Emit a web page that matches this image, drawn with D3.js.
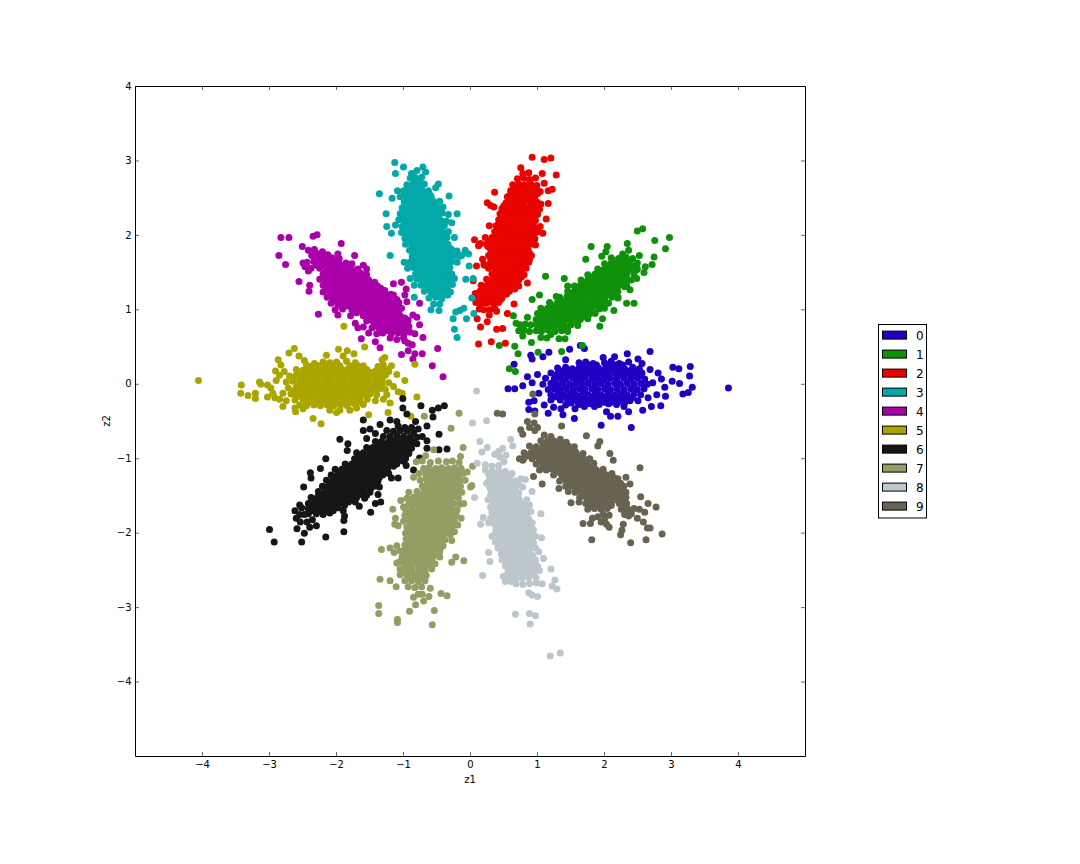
<!DOCTYPE html>
<html><head><meta charset="utf-8">
<script src="https://cdnjs.cloudflare.com/ajax/libs/d3/7.8.5/d3.min.js"></script>
<style>html,body{margin:0;padding:0;background:#fff}svg{display:block}text{font-family:"DejaVu Sans",sans-serif;fill:#000}</style>
</head><body><svg id="c" width="1080" height="864"></svg>
<script>
const labels=["0","1","2","3","4","5","6","7","8","9"];
const colors=["#2000c4","#0f910a","#e90400","#03a8a8","#a900a9","#aba500","#161616","#929e63","#bcc7cc","#686350"];
const xTicks=[-4,-3,-2,-1,0,1,2,3,4];
const yTicks=[-4,-3,-2,-1,0,1,2,3,4];
const cluster0=[[3.85,-.05],[3.28,.24],[3.27,.11],[3.31,-.04],[3.02,.23],[3.11,.21],[3.12,.01],[3.17,-.13],[3.25,-.11],[3.01,.04],[2.91,-.16],[2.84,-.29],[2.7,-.3],[2.57,-.35],[2.4,-.58],[2.36,-.37],[2.29,-.3],[2.2,-.43],[2.09,-.43],[2.03,-.37],[1.95,-.55],[1.56,-.33],[1.55,-.46],[1.38,-.41],[1.35,-.33],[1.16,-.39],[.96,-.36],[.87,-.34],[.87,-.24],[.56,-.06],[.66,-.06],[.65,.27],[.9,.39],[.92,.34],[1.08,.37],[1.17,.43],[1.48,.47],[1.64,.52],[1.7,.48],[2.34,.41],[2.68,.44],[.85,.1],[.78,-.02],[.92,.02],[1,.13],[1.02,-.12],[.95,-.22],[1.1,-.28],[1.24,-.31],[1.7,-.3],[1.85,-.3],[2.85,.07],[2.8,.15],[2.9,-.04],[2.78,-.14],[2.68,.2],[2.72,.02],[2.65,-.18],[1.42,.33],[1.98,.36],[2.15,.37],[2.5,.34],[2.56,.28],
[1.62,.29],[1.72,.3],[1.83,.28],[2,.29],[2.1,.31],[2.22,.28],[2.36,.3],
[1.3,.22],[1.42,.23],[1.52,.21],[1.62,.22],[1.72,.21],[1.81,.23],[1.91,.22],[2.01,.21],[2.11,.23],[2.2,.22],[2.3,.21],[2.42,.23],[2.52,.21],
[1.2,.15],[1.3,.14],[1.39,.15],[1.48,.14],[1.57,.15],[1.67,.14],[1.76,.15],[1.86,.14],[1.95,.15],[2.05,.14],[2.15,.15],[2.24,.14],[2.34,.15],[2.44,.14],[2.56,.15],
[1.12,.08],[1.25,.07],[1.34,.08],[1.43,.07],[1.53,.08],[1.62,.07],[1.71,.08],[1.81,.07],[1.9,.08],[2,.07],[2.09,.08],[2.19,.07],[2.29,.08],[2.39,.07],[2.49,.08],[2.6,.07],
[1.08,0],[1.2,.01],[1.29,0],[1.38,.01],[1.48,0],[1.57,.01],[1.67,0],[1.76,.01],[1.86,0],[1.95,.01],[2.05,0],[2.15,.01],[2.24,0],[2.34,.01],[2.44,0],[2.54,.01],[2.64,0],
[1.16,-.07],[1.25,-.06],[1.34,-.07],[1.43,-.06],[1.53,-.07],[1.62,-.06],[1.71,-.07],[1.81,-.06],[1.9,-.07],[2,-.06],[2.09,-.07],[2.19,-.06],[2.29,-.07],[2.39,-.06],[2.49,-.07],[2.59,-.06],
[1.2,-.14],[1.3,-.13],[1.39,-.14],[1.48,-.13],[1.57,-.14],[1.67,-.13],[1.76,-.14],[1.86,-.13],[1.95,-.14],[2.05,-.13],[2.15,-.14],[2.24,-.13],[2.34,-.14],[2.44,-.13],[2.54,-.14],
[1.2,-.21],[1.34,-.21],[1.45,-.22],[1.58,-.21],[1.67,-.2],[1.76,-.21],[1.86,-.2],[1.95,-.21],[2.05,-.2],[2.15,-.21],[2.24,-.2],[2.38,-.22],[2.5,-.22],
[1.42,-.28],[1.62,-.27],[1.78,-.26],[1.92,-.27],[2.06,-.26],[2.18,-.27]];
const core0=[[1.35,.18],[1.47,.19],[1.57,.18],[1.67,.19],[1.77,.18],[1.86,.19],[1.96,.18],[2.06,.19],[2.16,.18],[2.25,.19],[2.36,.18],[2.47,.19],[1.27,.11],[1.44,.11],[1.62,.11],[1.81,.11],[2,.11],[2.19,.11],[2.39,.11],[2.52,.11],[1.25,-.17],[1.35,-.18],[1.44,-.17],[1.53,-.18],[1.62,-.17],[1.72,-.18],[1.81,-.17],[1.9,-.18],[2,-.17],[2.1,-.18],[2.2,-.17],[2.3,-.18],[2.42,-.18],[1.5,-.25],[1.6,-.24],[1.7,-.24],[1.82,-.24],[1.92,-.24],[2,-.24],[2.1,-.24],[2.2,-.24],[2.3,-.25],[1.67,.25],[1.78,.26],[1.88,.26],[2.05,.26],[2.16,.26],[2.27,.26]];
const cluster1=[[2.97,1.97],[2.91,1.82],[2.75,1.93],[2.57,2.09],[2.49,2.06],[2.74,1.71],[2.71,1.61],[2.61,1.58],[2.59,1.5],[2.49,1.55],[2.52,1.73],[1.8,1.85],[2.04,1.85],[2.34,1.89],[2.44,1.09],[2.33,1.09],[2.14,.99],[1.97,.88],[1.93,.78],[1.12,1.45],[1.03,1.2],[.92,1.14],[.64,.92],[.85,.9],[.66,.51],[.43,.52],[.71,.41],[1.01,.43],[1.36,.44],[1.67,.52],[.58,.21],[.67,.17],[.91,.56],[1.41,.61],[1.32,.61],[2.36,1.8],[2.27,1.75],[2.02,1.78],[1.96,1.72],[1.72,1.68],[1.4,1.42],[1.45,1.32],[1.28,1.18],[2.48,1.42],[2.38,1.27],[2.33,1.33],[2.2,1.17],
[2.1,1.7],[2.21,1.69],[2.32,1.71],[2.42,1.69],
[2,1.62],[2.1,1.63],[2.19,1.62],[2.29,1.63],[2.39,1.61],[2.49,1.63],
[1.9,1.55],[1.99,1.54],[2.09,1.55],[2.18,1.55],[2.28,1.54],[2.38,1.55],[2.48,1.54],
[1.75,1.47],[1.86,1.48],[1.95,1.47],[2.04,1.47],[2.14,1.48],[2.23,1.47],[2.33,1.47],[2.44,1.48],
[1.65,1.4],[1.75,1.4],[1.85,1.39],[1.94,1.4],[2.04,1.4],[2.13,1.39],[2.23,1.4],[2.33,1.39],[2.4,1.4],
[1.55,1.32],[1.64,1.33],[1.74,1.32],[1.83,1.32],[1.93,1.33],[2.02,1.32],[2.12,1.32],[2.22,1.33],[2.3,1.31],
[1.45,1.25],[1.54,1.24],[1.64,1.25],[1.73,1.25],[1.83,1.24],[1.92,1.25],[2.02,1.25],[2.11,1.24],[2.2,1.25],
[1.33,1.17],[1.44,1.18],[1.53,1.17],[1.62,1.17],[1.72,1.18],[1.82,1.17],[1.91,1.17],[2.01,1.18],[2.11,1.17],[2.2,1.16],
[1.18,1.1],[1.29,1.09],[1.38,1.1],[1.47,1.1],[1.57,1.09],[1.66,1.1],[1.76,1.1],[1.85,1.09],[1.95,1.1],[2.06,1.09],
[1.05,1.02],[1.15,1.02],[1.25,1.03],[1.34,1.02],[1.44,1.02],[1.53,1.03],[1.63,1.02],[1.72,1.02],[1.82,1.03],[1.92,1.01],[2,1.02],
[1,.95],[1.1,.95],[1.2,.94],[1.29,.95],[1.39,.95],[1.48,.94],[1.58,.95],[1.67,.95],[1.77,.94],[1.86,.95],
[.98,.87],[1.07,.87],[1.16,.88],[1.26,.87],[1.35,.87],[1.45,.88],[1.54,.87],[1.64,.87],[1.75,.88],
[.68,.82],[.74,.8],[.82,.81],[.9,.8],[.99,.8],[1.1,.79],[1.2,.8],[1.3,.8],[1.4,.79],[1.5,.8],[1.6,.79],
[.72,.72],[.8,.73],[.88,.71],[.98,.72],[1.06,.71],[1.16,.73],[1.26,.71],[1.36,.72],[1.45,.71],
[.78,.65],[1.05,.63],[1.14,.62],[1.2,.67]];
const core1=[[2.15,1.66],[2.26,1.66],[2.36,1.66],[2.05,1.58],[2.15,1.59],[2.25,1.58],[2.35,1.58],[2.44,1.58],[1.95,1.51],[2.05,1.51],[2.14,1.51],[2.24,1.51],[2.34,1.51],[1.8,1.44],[1.9,1.44],[2,1.44],[2.09,1.44],[2.19,1.44],[2.29,1.44],[1.7,1.36],[1.8,1.36],[1.9,1.36],[1.99,1.36],[2.09,1.36],[2.18,1.36],[2.28,1.36],[1.6,1.29],[1.69,1.29],[1.78,1.29],[1.88,1.29],[1.98,1.29],[2.07,1.29],[2.17,1.29],[1.49,1.21],[1.59,1.21],[1.68,1.21],[1.78,1.21],[1.87,1.21],[1.97,1.21],[2.06,1.21],[2.16,1.21],[1.33,1.13],[1.42,1.13],[1.52,1.13],[1.62,1.13],[1.71,1.13],[1.81,1.13],[1.9,1.13],[2,1.13],[1.2,1.06],[1.3,1.06],[1.39,1.06],[1.49,1.06],[1.58,1.06],[1.68,1.06],[1.77,1.06],[1.87,1.06],[1.96,1.06],[1.1,.98],[1.2,.98],[1.29,.98],[1.39,.98],[1.49,.98],[1.58,.98],[1.68,.98],[1.77,.98],[1.05,.91],[1.15,.91],[1.24,.91],[1.34,.91],[1.43,.91],[1.53,.91],[1.62,.91],[1.72,.91],[1.03,.84],[1.12,.84],[1.21,.84],[1.31,.84],[1.4,.84],[1.5,.84],[1.6,.84],[1.05,.76],[1.15,.76],[1.25,.76],[1.35,.76],[1.45,.76]];
const cluster2=[[.92,3.05],[1.1,3.02],[1.2,3.04],[1.28,2.81],[1.07,2.83],[.75,2.91],[.36,2.58],[.06,1.94],[.12,.54],[.31,.57],[.52,.55],[.39,.74],[.48,.75],[.15,.77],[.25,.84],[.1,.88],[.55,.95],[.65,1.08],[.04,1.39],[.07,1.22],[.09,1.59],[.85,1.36],[1.13,2.22],[1.08,2.03],[1.16,2.43],[1.22,2.62],[1.16,2.6],[1.1,2.7],[1.05,2.42],[.3,2.4],[.25,2.44],[.12,1.86],[.2,1.61],[.18,1.68],[.35,2.38],
[.78,2.83],[.87,2.84],[.7,2.76],[.79,2.77],[.88,2.75],[.97,2.77],
[.63,2.68],[.72,2.69],[.81,2.68],[.9,2.69],[.99,2.67],[.6,2.6],[.7,2.61],[.79,2.6],[.88,2.61],[.98,2.6],[1.04,2.59],
[.55,2.52],[.66,2.53],[.75,2.52],[.85,2.53],[.94,2.52],[.53,2.44],[.62,2.45],[.71,2.44],[.8,2.45],[.9,2.44],[.99,2.45],
[.47,2.36],[.57,2.37],[.67,2.36],[.76,2.37],[.85,2.36],[.95,2.37],[1.03,2.35],
[.44,2.29],[.53,2.29],[.62,2.28],[.72,2.29],[.81,2.28],[.9,2.29],[1,2.28],
[.42,2.21],[.5,2.21],[.59,2.2],[.68,2.21],[.77,2.2],[.87,2.21],[.97,2.2],
[.28,2.13],[.38,2.13],[.47,2.12],[.56,2.13],[.65,2.12],[.75,2.13],[.84,2.12],[.94,2.13],[1.04,2.12],
[.36,2.05],[.45,2.05],[.54,2.04],[.63,2.05],[.72,2.04],[.82,2.05],[.91,2.04],[1,2.05],
[.22,1.97],[.32,1.97],[.41,1.96],[.5,1.97],[.6,1.96],[.69,1.97],[.78,1.96],[.88,1.97],[.96,1.95],
[.15,1.89],[.24,1.88],[.34,1.89],[.43,1.88],[.53,1.89],[.62,1.88],[.72,1.89],[.81,1.88],[.9,1.88],[.97,1.87],
[.3,1.81],[.4,1.81],[.49,1.8],[.58,1.81],[.68,1.8],[.77,1.81],[.86,1.8],
[.27,1.73],[.36,1.73],[.45,1.72],[.55,1.73],[.64,1.72],[.73,1.73],[.83,1.72],[.91,1.73],
[.21,1.6],[.3,1.64],[.4,1.65],[.49,1.64],[.59,1.65],[.68,1.64],[.77,1.65],[.87,1.64],
[.27,1.56],[.36,1.57],[.46,1.56],[.55,1.57],[.65,1.56],[.74,1.57],[.83,1.56],
[.32,1.48],[.43,1.49],[.52,1.48],[.61,1.48],[.7,1.49],[.8,1.47],
[.24,1.41],[.34,1.41],[.44,1.4],[.54,1.41],[.63,1.41],[.72,1.4],
[.16,1.33],[.25,1.33],[.34,1.33],[.43,1.33],[.53,1.33],[.62,1.33],[.72,1.32],
[.14,1.25],[.23,1.25],[.32,1.25],[.41,1.25],[.5,1.25],[.58,1.25],
[.12,1.17],[.22,1.17],[.31,1.17],[.4,1.17],[.47,1.16],
[.08,1.1],[.15,1.08],[.24,1.09],[.34,1.09],[.42,1.1],
[.13,1.01],[.2,1],[.29,1],[.36,1.02],[.28,.93],[.39,.98]];
const core2=[[.68,2.64],[.77,2.65],[.86,2.64],[.95,2.64],[.6,2.56],[.7,2.57],[.8,2.56],[.9,2.56],[1,2.56],[.58,2.48],[.68,2.49],[.78,2.48],[.88,2.48],[.96,2.49],[.5,2.4],[.6,2.41],[.7,2.4],[.8,2.41],[.9,2.4],[1,2.41],[.5,2.32],[.6,2.33],[.7,2.32],[.8,2.33],[.9,2.32],[1,2.32],[.48,2.25],[.57,2.25],[.66,2.24],[.77,2.25],[.86,2.24],[.95,2.25],[.43,2.17],[.53,2.17],[.63,2.16],[.73,2.17],[.82,2.16],[.92,2.17],[.42,2.09],[.51,2.09],[.6,2.08],[.7,2.09],[.8,2.08],[.9,2.09],[.98,2.08],[.4,2.01],[.5,2.01],[.58,2],[.67,2.01],[.77,2],[.86,2.01],[.95,2],[.27,1.93],[.36,1.93],[.46,1.92],[.55,1.93],[.65,1.92],[.74,1.93],[.83,1.92],[.92,1.93],[.26,1.85],[.35,1.85],[.44,1.84],[.54,1.85],[.63,1.84],[.72,1.85],[.82,1.84],[.33,1.77],[.42,1.77],[.52,1.76],[.61,1.77],[.7,1.76],[.8,1.77],[.88,1.76],[.3,1.69],[.4,1.69],[.5,1.68],[.6,1.69],[.7,1.68],[.8,1.69],[.88,1.68],[.33,1.6],[.43,1.61],[.5,1.6],[.6,1.61],[.7,1.6],[.8,1.61],[.38,1.52],[.48,1.53],[.57,1.52],[.66,1.53],[.76,1.52],[.38,1.44],[.48,1.45],[.58,1.44],[.67,1.45],[.76,1.44],[.28,1.37],[.38,1.37],[.48,1.37],[.58,1.36],[.67,1.37],[.2,1.29],[.29,1.29],[.38,1.29],[.48,1.29],[.57,1.29],[.66,1.28],[.18,1.21],[.27,1.21],[.36,1.21],[.45,1.21],[.54,1.21],[.17,1.13],[.27,1.13],[.37,1.13],[.44,1.13]];
const cluster3=[[-1.13,2.98],[-1,2.92],[-.71,2.92],[-1.12,2.83],[-.67,2.85],[-1.36,2.56],[-1.17,2.5],[-1.26,2.29],[-1.25,2.12],[-1.18,2.03],[-1.2,1.73],[-1.12,2.14],[-.48,2.69],[-.52,2.64],[-.32,2.53],[-.2,2.29],[-.24,1.97],[-.03,1.75],[-.02,1.59],[-.07,1.41],[.04,1.42],[.02,1.16],[.05,.95],[-.2,.63],[-.24,.74],[-.26,.88],[-.16,.99],[-.1,1.02],[-.06,.88],[-.22,.97],[-.59,1],[-.47,.99],[-.84,1.33],[-.84,1.17],[-.88,2.83],[-.83,2.78],[-.8,2.87],[-.13,1.73],[-.08,1.8],[-.28,2.17],[-.33,2.28],
[-.9,2.77],[-.81,2.76],[-.73,2.78],[-.95,2.68],[-.86,2.69],[-.77,2.68],[-.69,2.69],[-1.09,2.6],[-1,2.6],[-.91,2.61],[-.82,2.6],[-.73,2.61],[-.63,2.6],
[-1.05,2.52],[-.96,2.53],[-.87,2.52],[-.78,2.53],[-.69,2.52],[-.59,2.53],[-.99,2.45],[-.9,2.44],[-.81,2.45],[-.72,2.44],[-.63,2.45],[-.54,2.45],[-.46,2.46],
[-1.02,2.37],[-.93,2.37],[-.84,2.36],[-.75,2.37],[-.66,2.36],[-.57,2.37],[-.47,2.36],[-.41,2.38],
[-1.05,2.29],[-.96,2.29],[-.87,2.28],[-.78,2.29],[-.69,2.28],[-.6,2.29],[-.51,2.28],[-.42,2.3],
[-1.07,2.21],[-.98,2.2],[-.89,2.21],[-.8,2.2],[-.71,2.21],[-.62,2.2],[-.53,2.21],[-.44,2.2],[-.36,2.19],
[-1.02,2.12],[-.93,2.13],[-.84,2.12],[-.75,2.13],[-.66,2.12],[-.57,2.13],[-.48,2.12],[-.39,2.13],
[-1.03,2.04],[-.95,2.04],[-.86,2.05],[-.77,2.04],[-.68,2.05],[-.59,2.04],[-.5,2.05],[-.41,2.04],[-.33,2.05],
[-.98,1.96],[-.89,1.97],[-.8,1.96],[-.71,1.97],[-.62,1.96],[-.53,1.97],[-.44,1.96],[-.35,1.97],
[-.97,1.88],[-.88,1.88],[-.79,1.89],[-.7,1.88],[-.61,1.89],[-.52,1.88],[-.43,1.89],[-.34,1.88],
[-.91,1.8],[-.82,1.81],[-.73,1.8],[-.64,1.81],[-.55,1.8],[-.46,1.81],[-.37,1.8],[-.28,1.81],[-.2,1.79],
[-.87,1.72],[-.78,1.73],[-.69,1.72],[-.6,1.73],[-.51,1.72],[-.42,1.73],[-.33,1.72],[-.24,1.73],[-.16,1.72],
[-.99,1.64],[-.91,1.64],[-.82,1.65],[-.73,1.64],[-.64,1.65],[-.55,1.64],[-.46,1.65],[-.37,1.64],[-.28,1.65],[-.2,1.64],
[-.94,1.56],[-.85,1.57],[-.76,1.56],[-.67,1.57],[-.58,1.56],[-.49,1.57],[-.4,1.56],[-.31,1.57],
[-.82,1.48],[-.73,1.49],[-.64,1.48],[-.55,1.49],[-.46,1.48],[-.37,1.49],[-.28,1.48],
[-.9,1.42],[-.8,1.41],[-.71,1.4],[-.62,1.41],[-.52,1.41],[-.42,1.4],[-.33,1.41],[-.24,1.42],
[-.74,1.33],[-.64,1.32],[-.55,1.33],[-.45,1.32],[-.36,1.33],[-.27,1.34],
[-.69,1.25],[-.59,1.24],[-.49,1.25],[-.4,1.24],[-.3,1.24],[-.62,1.16],[-.52,1.17],[-.43,1.15],[-.34,1.2],[-.55,1.08],[-.46,1.08]];
const core3=[[-.85,2.73],[-.76,2.72],[-.91,2.65],[-.82,2.64],[-.73,2.65],[-.98,2.56],[-.89,2.56],[-.8,2.57],[-.71,2.56],[-.62,2.57],[-.94,2.49],[-.85,2.48],[-.76,2.49],[-.67,2.48],[-.58,2.49],[-.97,2.41],[-.88,2.4],[-.79,2.41],[-.7,2.4],[-.61,2.41],[-.52,2.4],[-1,2.33],[-.91,2.32],[-.82,2.33],[-.73,2.32],[-.64,2.33],[-.55,2.32],[-.46,2.33],[-1.02,2.25],[-.93,2.24],[-.84,2.25],[-.75,2.24],[-.66,2.25],[-.57,2.24],[-.48,2.25],[-.98,2.17],[-.88,2.16],[-.79,2.17],[-.7,2.16],[-.61,2.17],[-.52,2.16],[-.43,2.17],[-.98,2.08],[-.89,2.09],[-.8,2.08],[-.71,2.09],[-.62,2.08],[-.53,2.09],[-.44,2.08],[-.93,2],[-.84,2.01],[-.75,2],[-.66,2.01],[-.57,2],[-.48,2.01],[-.39,2],[-.93,1.92],[-.84,1.93],[-.75,1.92],[-.66,1.93],[-.57,1.92],[-.48,1.93],[-.39,1.92],[-.86,1.84],[-.77,1.85],[-.68,1.84],[-.59,1.85],[-.5,1.84],[-.41,1.85],[-.32,1.84],[-.82,1.76],[-.73,1.77],[-.64,1.76],[-.55,1.77],[-.46,1.76],[-.37,1.77],[-.28,1.76],[-.86,1.68],[-.77,1.69],[-.68,1.68],[-.59,1.69],[-.5,1.68],[-.41,1.69],[-.32,1.68],[-.88,1.6],[-.79,1.61],[-.7,1.6],[-.61,1.61],[-.52,1.6],[-.43,1.61],[-.34,1.6],[-.78,1.52],[-.69,1.53],[-.6,1.52],[-.51,1.53],[-.42,1.52],[-.33,1.53],[-.76,1.45],[-.67,1.45],[-.58,1.45],[-.49,1.45],[-.4,1.45],[-.31,1.45],[-.69,1.37],[-.6,1.37],[-.5,1.37],[-.4,1.37],[-.31,1.38],[-.64,1.29],[-.54,1.29],[-.44,1.29],[-.35,1.29],[-.57,1.21],[-.47,1.21],[-.38,1.21]];
const cluster4=[[-2.83,1.97],[-2.71,1.97],[-2.35,1.99],[-2.29,2.01],[-2.86,1.73],[-2.76,1.61],[-2.56,1.38],[-2.41,1.25],[-2.4,1.33],[-2.51,1.85],[-1.93,1.89],[-2.27,.94],[-1.73,1.73],[-1.63,.61],[-1.42,.57],[-1.35,.49],[-1.03,.4],[-.93,.45],[-.86,.34],[-.83,.41],[-.72,.41],[-.49,.48],[-.57,.25],[-.41,.1],[-1.15,1.35],[-1.03,1.37],[-.96,1.28],[-.95,1.11],[-.76,1.09],[-.8,.9],[-.76,.8],[-.71,.63],[-1.6,1.6],[-1.55,1.55],[-2.5,1.63],[-2.47,1.58],[-2.42,1.52],[-.98,1.2],[-1.72,.82],[-1.68,.76],[-.86,.93],[-.83,.68],[-.93,.55],[-.87,.53],[-.98,.58],
[-2.42,1.8],[-2.33,1.81],[-2.21,1.78],[-2.13,1.74],[-1.98,1.75],[-2.37,1.73],[-2.27,1.72],[-2.17,1.7],[-2.07,1.7],[-1.96,1.69],
[-2.44,1.64],[-2.34,1.65],[-2.25,1.63],[-2.15,1.64],[-2.06,1.63],[-1.96,1.62],[-1.86,1.63],[-1.77,1.62],
[-2.38,1.56],[-2.25,1.56],[-2.14,1.56],[-2.05,1.55],[-1.96,1.56],[-1.87,1.55],[-1.78,1.56],[-1.68,1.55],
[-2.2,1.48],[-2.1,1.48],[-2.01,1.49],[-1.92,1.48],[-1.83,1.49],[-1.74,1.48],[-1.64,1.49],[-1.55,1.47],
[-2.25,1.41],[-2.16,1.41],[-2.06,1.4],[-1.97,1.41],[-1.88,1.4],[-1.79,1.41],[-1.7,1.4],[-1.61,1.41],[-1.52,1.4],
[-2.2,1.33],[-2.11,1.32],[-2.02,1.33],[-1.93,1.32],[-1.84,1.33],[-1.75,1.32],[-1.66,1.33],[-1.57,1.32],[-1.48,1.33],[-1.39,1.32],
[-2.2,1.24],[-2.1,1.25],[-2.01,1.24],[-1.92,1.25],[-1.83,1.24],[-1.74,1.25],[-1.65,1.24],[-1.56,1.25],[-1.47,1.24],[-1.38,1.25],[-1.28,1.26],
[-2.14,1.17],[-2.05,1.16],[-1.96,1.17],[-1.87,1.16],[-1.78,1.17],[-1.69,1.16],[-1.6,1.17],[-1.51,1.16],[-1.42,1.17],[-1.33,1.16],[-1.24,1.17],[-1.15,1.2],
[-2.08,1.09],[-1.98,1.08],[-1.88,1.09],[-1.79,1.08],[-1.7,1.09],[-1.61,1.08],[-1.52,1.09],[-1.43,1.08],[-1.34,1.09],[-1.25,1.08],[-1.16,1.09],[-1.07,1.1],
[-2.02,1],[-1.91,1.01],[-1.77,1],[-1.66,1],[-1.57,1.01],[-1.48,1],[-1.39,1.01],[-1.3,1],[-1.21,1.01],[-1.12,1],[-1.03,1.02],
[-1.98,.93],[-1.79,.92],[-1.6,.92],[-1.5,.93],[-1.41,.92],[-1.32,.93],[-1.23,.92],[-1.14,.93],[-1.05,.92],
[-1.55,.85],[-1.45,.84],[-1.36,.85],[-1.27,.84],[-1.18,.85],[-1.09,.84],[-1,.85],[-.93,.86],
[-1.6,.77],[-1.47,.76],[-1.38,.77],[-1.29,.76],[-1.2,.77],[-1.1,.76],[-1.01,.77],[-.92,.78],
[-1.52,.69],[-1.4,.68],[-1.31,.69],[-1.18,.68],[-1.08,.69],[-.99,.68],[-.9,.7],[-1.2,.62],[-1.1,.6],[-1,.62]];
const core4=[[-2.3,1.76],[-2.2,1.74],[-2.32,1.68],[-2.22,1.67],[-2.12,1.67],[-2.02,1.66],[-2.3,1.6],[-2.2,1.6],[-2.1,1.6],[-2,1.59],[-1.91,1.59],[-1.82,1.59],[-2.15,1.52],[-2.06,1.52],[-1.97,1.52],[-1.88,1.52],[-1.79,1.52],[-1.7,1.52],[-2.2,1.44],[-2.11,1.44],[-2.02,1.44],[-1.93,1.44],[-1.84,1.44],[-1.74,1.44],[-1.65,1.44],[-1.57,1.44],[-2.15,1.37],[-2.06,1.37],[-1.97,1.37],[-1.88,1.37],[-1.79,1.37],[-1.7,1.37],[-1.61,1.37],[-1.52,1.37],[-1.43,1.37],[-2.15,1.29],[-2.06,1.29],[-1.97,1.29],[-1.88,1.29],[-1.79,1.29],[-1.7,1.29],[-1.61,1.29],[-1.52,1.29],[-1.43,1.29],[-1.34,1.29],[-2.1,1.21],[-2,1.21],[-1.91,1.21],[-1.82,1.21],[-1.73,1.21],[-1.64,1.21],[-1.55,1.21],[-1.46,1.21],[-1.37,1.21],[-1.28,1.21],[-1.19,1.21],[-2.02,1.13],[-1.92,1.13],[-1.83,1.13],[-1.74,1.13],[-1.65,1.13],[-1.56,1.13],[-1.47,1.13],[-1.38,1.13],[-1.29,1.13],[-1.2,1.13],[-1.1,1.14],[-1.93,1.05],[-1.84,1.05],[-1.74,1.04],[-1.65,1.05],[-1.56,1.04],[-1.47,1.05],[-1.38,1.04],[-1.29,1.05],[-1.2,1.04],[-1.1,1.05],[-1.7,.96],[-1.61,.97],[-1.52,.96],[-1.43,.97],[-1.34,.96],[-1.25,.97],[-1.16,.96],[-1.07,.97],[-1.52,.88],[-1.43,.89],[-1.34,.88],[-1.25,.89],[-1.16,.88],[-1.07,.89],[-.98,.89],[-1.42,.8],[-1.33,.81],[-1.24,.8],[-1.15,.81],[-1.06,.8],[-.97,.81],[-1.34,.72],[-1.24,.72],[-1.14,.72],[-1.04,.72],[-.95,.73]];
const cluster5=[[-4.06,.05],[-3.42,-.01],[-3.43,-.12],[-3.32,-.15],[-3.21,-.12],[-3.21,-.19],[-3.15,.03],[-3.13,0],[-3.03,-.01],[-3.03,-.17],[-1.89,.78],[-1.58,.5],[-2.63,.48],[-2.71,.42],[-2.87,.33],[-2.83,.26],[-2.91,.18],[-1.97,.47],[-1.84,.45],[-1.74,.41],[-.83,.27],[-1.1,.13],[-.98,.05],[-.8,-.17],[-1.23,-.38],[-1.52,-.41],[-2.35,-.46],[-2.23,-.53],[-2.61,-.37],[-2.8,-.3],[-.89,-.43],[-1.28,.36],[-1.32,.33],[-1.18,.25],[-1.25,.2],[-2.98,-.05],[-2.95,-.12],[-2.92,-.18],[-2.85,-.2],[-2.9,.05],[-2.85,.12],[-2.78,.17],[-2.56,.38],[-2.48,.32],[-2.15,.39],[-1.9,.38],[-1.08,-.1],[-1.15,-.03],[-1.02,-.12],[-1.2,-.25],[-1.3,-.2],[-2.62,-.32],[-2.5,-.33],[-2,-.38],[-1.8,-.35],[-1.7,-.32],
[-2.45,.26],[-2.33,.28],[-2.2,.3],[-2.1,.29],[-2,.3],[-1.85,.31],[-1.72,.29],[-1.6,.25],[-1.38,.24],[-1.3,.26],
[-2.6,.2],[-2.5,.19],[-2.4,.2],[-2.31,.21],[-2.22,.2],[-2.12,.21],[-2.03,.2],[-1.93,.21],[-1.84,.2],[-1.75,.21],[-1.65,.19],[-1.55,.2],[-1.42,.18],[-1.33,.19],[-1.22,.17],
[-2.7,.11],[-2.6,.12],[-2.5,.11],[-2.41,.12],[-2.31,.11],[-2.22,.12],[-2.12,.11],[-2.03,.12],[-1.93,.11],[-1.84,.12],[-1.74,.11],[-1.65,.12],[-1.55,.11],[-1.46,.12],[-1.36,.11],[-1.27,.12],
[-2.75,.03],[-2.65,.04],[-2.55,.03],[-2.46,.04],[-2.36,.03],[-2.27,.04],[-2.17,.03],[-2.08,.04],[-1.98,.03],[-1.89,.04],[-1.79,.03],[-1.7,.04],[-1.6,.03],[-1.51,.04],[-1.41,.03],[-1.32,.04],[-1.22,.02],
[-2.72,-.05],[-2.6,-.04],[-2.5,-.05],[-2.41,-.04],[-2.31,-.05],[-2.22,-.04],[-2.12,-.05],[-2.03,-.04],[-1.93,-.05],[-1.84,-.04],[-1.74,-.05],[-1.65,-.04],[-1.55,-.05],[-1.46,-.04],[-1.36,-.06],[-1.27,-.07],
[-2.8,-.12],[-2.68,-.13],[-2.55,-.12],[-2.46,-.13],[-2.36,-.12],[-2.27,-.13],[-2.17,-.12],[-2.08,-.13],[-1.98,-.12],[-1.89,-.13],[-1.79,-.12],[-1.7,-.13],[-1.6,-.12],[-1.5,-.13],[-1.4,-.14],[-1.25,-.14],
[-2.75,-.22],[-2.62,-.21],[-2.5,-.2],[-2.41,-.21],[-2.31,-.2],[-2.22,-.21],[-2.12,-.2],[-2.03,-.21],[-1.93,-.2],[-1.84,-.21],[-1.74,-.2],[-1.65,-.21],[-1.54,-.2],[-1.42,-.22],
[-2.55,-.28],[-2.45,-.29],[-2.34,-.28],[-2.24,-.29],[-2.14,-.28],[-2.04,-.29],[-1.94,-.28],[-1.84,-.29],[-1.72,-.27],[-1.6,-.27],[-2.1,-.35],[-1.95,-.35]];
const core5=[[-2.38,.24],[-2.27,.25],[-2.16,.25],[-2.05,.25],[-1.95,.25],[-1.8,.25],[-1.68,.25],[-2.55,.15],[-2.45,.16],[-2.36,.15],[-2.27,.16],[-2.17,.15],[-2.08,.16],[-1.98,.15],[-1.89,.16],[-1.79,.15],[-1.7,.16],[-1.6,.15],[-1.5,.16],[-1.4,.15],[-2.65,.07],[-2.55,.08],[-2.46,.07],[-2.36,.08],[-2.27,.07],[-2.17,.08],[-2.08,.07],[-1.98,.08],[-1.89,.07],[-1.79,.08],[-1.7,.07],[-1.6,.08],[-1.51,.07],[-1.41,.08],[-1.32,.07],[-2.55,0],[-2.46,-.01],[-2.36,0],[-2.27,-.01],[-2.17,0],[-2.08,-.01],[-1.98,0],[-1.89,-.01],[-1.79,0],[-1.7,-.01],[-1.6,0],[-1.51,-.01],[-1.41,0],[-1.32,-.01],[-2.64,-.09],[-2.55,-.08],[-2.45,-.09],[-2.36,-.08],[-2.26,-.09],[-2.17,-.08],[-2.07,-.09],[-1.98,-.08],[-1.88,-.09],[-1.79,-.08],[-1.69,-.09],[-1.6,-.08],[-1.5,-.09],[-1.41,-.08],[-2.6,-.17],[-2.5,-.16],[-2.41,-.17],[-2.31,-.16],[-2.22,-.17],[-2.12,-.16],[-2.03,-.17],[-1.93,-.16],[-1.84,-.17],[-1.74,-.16],[-1.65,-.17],[-1.55,-.16],[-2.45,-.25],[-2.36,-.24],[-2.26,-.25],[-2.17,-.24],[-2.07,-.25],[-1.98,-.24],[-1.88,-.25],[-1.78,-.24],[-1.68,-.24]];
const cluster6=[[-3,-1.95],[-2.93,-2.12],[-2.52,-2.12],[-2.59,-1.94],[-2.48,-2],[-2.16,-2.05],[-1.89,-1.98],[-2.62,-1.7],[-2.49,-1.38],[-2.39,-1.19],[-2.24,-1.13],[-2.16,-1],[-1.95,-.74],[-1.83,-.8],[-1.84,-.89],[-1.6,-.48],[-1.35,-.54],[-1.01,-.19],[-1.01,-.32],[-.74,-.29],[-.57,-.35],[-.48,-.32],[-.39,-.29],[-.56,-.44],[-.65,-.56],[-.47,-.67],[-.65,-.76],[-.65,-.86],[-.47,-.88],[-.35,-.87],[-.76,-.99],[-.85,-1.15],[-.96,-1.09],[-1.08,-1.26],[-1.18,-1.26],[-1.34,-1.58],[-1.42,-1.6],[-1.49,-1.72],[-1.66,-1.64],[-1.88,-1.77],[-.95,-.4],[-2.38,-1.26],[-2.55,-1.75],[-2.48,-1.75],[-2.6,-1.8],[-2.44,-1.85],[-2.36,-1.82],[-2.3,-1.9],[-2.54,-1.85],[-2.4,-1.92],[-1.89,-1.83],[-1.6,-.62],[-1.5,-.6],[-1.42,-.66],[-1.1,-.5],[-1.2,-.48],[-.82,-.5],[-.78,-.6],[-.72,-.7],[-.8,-.8],
[-1.08,-.56],[-.98,-.58],[-.88,-.58],[-1.25,-.62],[-1.15,-.63],[-1.05,-.62],[-.95,-.63],[-.85,-.65],[-1.3,-.7],[-1.2,-.7],[-1.1,-.69],[-1,-.7],[-.9,-.71],[-.8,-.71],
[-1.55,-.73],[-1.42,-.77],[-1.33,-.77],[-1.23,-.78],[-1.14,-.77],[-1.05,-.78],[-.95,-.77],[-.85,-.78],
[-1.55,-.85],[-1.46,-.85],[-1.36,-.84],[-1.27,-.85],[-1.17,-.84],[-1.08,-.85],[-.98,-.84],[-.88,-.86],
[-1.7,-.92],[-1.6,-.92],[-1.5,-.91],[-1.41,-.92],[-1.31,-.91],[-1.22,-.92],[-1.12,-.91],[-1.02,-.92],[-.92,-.93],
[-1.73,-1],[-1.63,-.99],[-1.54,-1],[-1.44,-.99],[-1.35,-1],[-1.25,-.99],[-1.16,-1],[-1.06,-.99],[-.97,-1],
[-1.87,-1.07],[-1.77,-1.07],[-1.67,-1.06],[-1.58,-1.07],[-1.48,-1.06],[-1.39,-1.07],[-1.29,-1.06],[-1.2,-1.07],[-1.1,-1.07],
[-2.02,-1.14],[-1.92,-1.14],[-1.82,-1.13],[-1.72,-1.14],[-1.63,-1.13],[-1.53,-1.14],[-1.44,-1.13],[-1.34,-1.14],[-1.24,-1.14],
[-2.08,-1.22],[-1.98,-1.21],[-1.88,-1.22],[-1.79,-1.21],[-1.69,-1.22],[-1.6,-1.21],[-1.5,-1.22],[-1.41,-1.21],[-1.31,-1.22],[-1.22,-1.2],
[-2.15,-1.29],[-2.05,-1.29],[-1.96,-1.28],[-1.86,-1.29],[-1.77,-1.28],[-1.67,-1.29],[-1.58,-1.28],[-1.48,-1.29],[-1.38,-1.3],
[-2.21,-1.37],[-2.12,-1.36],[-2.02,-1.37],[-1.93,-1.36],[-1.83,-1.37],[-1.73,-1.36],[-1.63,-1.37],[-1.54,-1.36],[-1.44,-1.37],[-1.36,-1.38],
[-2.27,-1.44],[-2.17,-1.44],[-2.08,-1.43],[-1.98,-1.44],[-1.89,-1.43],[-1.79,-1.44],[-1.69,-1.43],[-1.6,-1.44],[-1.5,-1.45],[-1.38,-1.48],
[-2.38,-1.52],[-2.28,-1.51],[-2.19,-1.52],[-2.09,-1.51],[-2,-1.52],[-1.9,-1.51],[-1.8,-1.52],[-1.7,-1.52],[-1.58,-1.53],
[-2.42,-1.6],[-2.32,-1.59],[-2.23,-1.6],[-2.13,-1.59],[-2.03,-1.6],[-1.93,-1.59],[-1.82,-1.58],[-1.72,-1.58],
[-2.52,-1.66],[-2.42,-1.67],[-2.3,-1.67],[-2.2,-1.67],[-2.1,-1.67],[-1.98,-1.66],
[-2.55,-1.62],[-2.42,-1.74],[-2.3,-1.74],[-2.2,-1.75],[-2.1,-1.73],[-1.9,-1.7]];
const core6=[[-1.2,-.74],[-1.1,-.73],[-1,-.74],[-.9,-.75],[-1.38,-.81],[-1.28,-.81],[-1.19,-.81],[-1.1,-.81],[-1,-.81],[-.9,-.82],[-1.5,-.88],[-1.41,-.88],[-1.32,-.88],[-1.22,-.88],[-1.13,-.88],[-1.03,-.88],[-.93,-.89],[-1.65,-.96],[-1.55,-.96],[-1.46,-.96],[-1.36,-.96],[-1.27,-.96],[-1.17,-.96],[-1.07,-.96],[-.97,-.96],[-1.68,-1.03],[-1.58,-1.03],[-1.49,-1.03],[-1.39,-1.03],[-1.3,-1.03],[-1.2,-1.03],[-1.11,-1.03],[-1.01,-1.03],[-1.82,-1.1],[-1.72,-1.1],[-1.62,-1.1],[-1.53,-1.1],[-1.43,-1.1],[-1.34,-1.1],[-1.24,-1.1],[-1.15,-1.1],[-1.97,-1.18],[-1.87,-1.18],[-1.77,-1.18],[-1.67,-1.18],[-1.58,-1.18],[-1.48,-1.18],[-1.39,-1.18],[-1.29,-1.18],[-2.03,-1.25],[-1.93,-1.25],[-1.83,-1.25],[-1.74,-1.25],[-1.64,-1.25],[-1.55,-1.25],[-1.45,-1.25],[-1.36,-1.25],[-2.1,-1.33],[-2,-1.33],[-1.91,-1.33],[-1.81,-1.33],[-1.72,-1.33],[-1.62,-1.33],[-1.53,-1.33],[-1.43,-1.33],[-2.17,-1.4],[-2.07,-1.4],[-1.97,-1.4],[-1.88,-1.4],[-1.78,-1.4],[-1.68,-1.4],[-1.59,-1.4],[-1.49,-1.4],[-2.22,-1.48],[-2.13,-1.48],[-2.03,-1.48],[-1.94,-1.48],[-1.84,-1.48],[-1.74,-1.48],[-1.65,-1.48],[-1.55,-1.49],[-2.33,-1.55],[-2.23,-1.55],[-2.14,-1.55],[-2.04,-1.55],[-1.95,-1.55],[-1.85,-1.55],[-1.75,-1.55],[-2.37,-1.63],[-2.27,-1.63],[-2.18,-1.63],[-2.08,-1.63],[-1.98,-1.63],[-1.88,-1.63],[-2.36,-1.7],[-2.25,-1.7],[-2.15,-1.7],[-2.05,-1.7]];
const cluster7=[[-.57,-3.23],[-1.09,-3.16],[-1.09,-3.2],[-1.37,-2.97],[-1.37,-3.08],[-.91,-3.05],[-.82,-2.96],[-.7,-2.91],[-.54,-3.04],[-.44,-2.81],[-.35,-2.84],[-1.35,-2.62],[-1.2,-2.64],[-1.11,-2.72],[-1.33,-2.22],[-.1,-2.37],[-.28,-2.39],[-.22,-2.32],[0,-1.38],[.02,-1.36],[-.1,-1.6],[-.14,-1.8],[-.19,-1.89],[-.24,-1.98],[-.17,-.39],[-.29,-.59],[-.69,-.43],[-.11,-.85],[-.15,-.97],[.03,-1.1],[-.05,-1.18],[-.55,-.88],[-.67,-.96],[-.81,-1.04],[-.85,-1.25],[-1.2,-2.2],[-1.14,-2.26],[-1.1,-2.17],[-1.05,-2.24],[-1.05,-2.38],[-1.12,-1.8],[-1.08,-1.9],[-1.04,-1.56],[-1,-1.65],[-1.13,-1.88],[-1.16,-1.68],[-.78,-2.82],[-.85,-2.86],[-.72,-2.82],[-.62,-2.85],[-.28,-2.1],
[-.72,-1.03],[-.6,-1.05],[-.48,-1.03],[-.36,-1.04],[-.27,-1.03],[-.17,-1.05],
[-.7,-1.13],[-.62,-1.12],[-.52,-1.13],[-.43,-1.12],[-.33,-1.13],[-.24,-1.12],[-.14,-1.13],
[-.77,-1.2],[-.67,-1.2],[-.58,-1.21],[-.48,-1.2],[-.39,-1.21],[-.29,-1.2],[-.2,-1.21],[-.11,-1.2],
[-.75,-1.29],[-.65,-1.29],[-.55,-1.28],[-.45,-1.29],[-.36,-1.28],[-.26,-1.29],[-.17,-1.28],[-.08,-1.29],
[-.72,-1.37],[-.62,-1.36],[-.53,-1.37],[-.43,-1.36],[-.34,-1.37],[-.24,-1.36],[-.15,-1.37],
[-.92,-1.45],[-.8,-1.44],[-.7,-1.45],[-.6,-1.44],[-.51,-1.45],[-.41,-1.44],[-.32,-1.45],[-.22,-1.44],[-.13,-1.45],
[-.95,-1.53],[-.85,-1.52],[-.75,-1.53],[-.66,-1.52],[-.56,-1.53],[-.47,-1.52],[-.37,-1.53],[-.28,-1.52],[-.18,-1.53],
[-.92,-1.6],[-.82,-1.6],[-.72,-1.61],[-.63,-1.6],[-.53,-1.61],[-.44,-1.6],[-.34,-1.61],[-.25,-1.6],[-.16,-1.61],
[-.97,-1.68],[-.87,-1.68],[-.77,-1.69],[-.68,-1.68],[-.58,-1.69],[-.49,-1.68],[-.39,-1.69],[-.3,-1.68],[-.2,-1.69],
[-.98,-1.76],[-.88,-1.76],[-.79,-1.77],[-.69,-1.76],[-.6,-1.77],[-.5,-1.76],[-.41,-1.77],[-.31,-1.76],[-.21,-1.77],
[-1,-1.84],[-.9,-1.84],[-.8,-1.85],[-.71,-1.84],[-.61,-1.85],[-.52,-1.84],[-.42,-1.85],[-.33,-1.84],[-.24,-1.85],
[-.95,-1.92],[-.85,-1.92],[-.75,-1.93],[-.66,-1.92],[-.56,-1.93],[-.47,-1.92],[-.37,-1.93],[-.28,-1.92],
[-.97,-2],[-.87,-2],[-.78,-2.01],[-.68,-2],[-.59,-2.01],[-.49,-2],[-.4,-2.01],[-.3,-2.02],
[-.96,-2.08],[-.86,-2.08],[-.76,-2.09],[-.66,-2.08],[-.56,-2.09],[-.47,-2.08],[-.38,-2.09],
[-.98,-2.16],[-.88,-2.16],[-.79,-2.17],[-.69,-2.16],[-.6,-2.17],[-.5,-2.16],[-.41,-2.17],
[-1,-2.24],[-.92,-2.24],[-.83,-2.25],[-.73,-2.24],[-.64,-2.25],[-.54,-2.24],[-.46,-2.25],
[-1.02,-2.32],[-.93,-2.32],[-.84,-2.33],[-.74,-2.32],[-.65,-2.33],[-.56,-2.32],[-.46,-2.32],
[-1.1,-2.4],[-1,-2.4],[-.9,-2.41],[-.8,-2.4],[-.71,-2.41],[-.61,-2.4],[-.53,-2.41],
[-1.05,-2.48],[-.96,-2.48],[-.87,-2.49],[-.77,-2.48],[-.68,-2.49],[-.58,-2.48],
[-1.05,-2.56],[-.95,-2.56],[-.85,-2.57],[-.75,-2.56],[-.66,-2.57],[-.98,-2.64],[-.88,-2.64],[-.78,-2.65],[-.68,-2.64],[-.93,-2.72],[-.83,-2.73],[-.73,-2.72],[-.6,-2.74]];
const core7=[[-.6,-1.16],[-.5,-1.16],[-.41,-1.16],[-.31,-1.16],[-.22,-1.16],[-.66,-1.25],[-.57,-1.25],[-.47,-1.25],[-.38,-1.25],[-.28,-1.25],[-.19,-1.25],[-.64,-1.33],[-.54,-1.33],[-.45,-1.33],[-.35,-1.33],[-.26,-1.33],[-.17,-1.33],[-.68,-1.41],[-.58,-1.41],[-.49,-1.41],[-.39,-1.41],[-.3,-1.41],[-.2,-1.41],[-.8,-1.49],[-.7,-1.49],[-.61,-1.49],[-.51,-1.49],[-.42,-1.49],[-.32,-1.49],[-.23,-1.49],[-.87,-1.56],[-.77,-1.56],[-.68,-1.56],[-.58,-1.56],[-.49,-1.56],[-.39,-1.56],[-.3,-1.56],[-.87,-1.64],[-.77,-1.64],[-.67,-1.64],[-.58,-1.64],[-.48,-1.64],[-.39,-1.64],[-.29,-1.64],[-.92,-1.72],[-.82,-1.72],[-.72,-1.72],[-.63,-1.72],[-.53,-1.72],[-.44,-1.72],[-.34,-1.72],[-.25,-1.72],[-.93,-1.8],[-.83,-1.8],[-.74,-1.8],[-.64,-1.8],[-.55,-1.8],[-.45,-1.8],[-.36,-1.8],[-.26,-1.8],[-.9,-1.88],[-.8,-1.88],[-.71,-1.88],[-.61,-1.88],[-.52,-1.88],[-.42,-1.88],[-.33,-1.88],[-.9,-1.96],[-.8,-1.96],[-.71,-1.96],[-.61,-1.96],[-.52,-1.96],[-.42,-1.96],[-.33,-1.96],[-.91,-2.04],[-.81,-2.04],[-.72,-2.04],[-.62,-2.04],[-.53,-2.04],[-.43,-2.04],[-.91,-2.12],[-.81,-2.12],[-.72,-2.12],[-.62,-2.12],[-.53,-2.12],[-.43,-2.12],[-.93,-2.2],[-.83,-2.2],[-.74,-2.2],[-.64,-2.2],[-.55,-2.2],[-.45,-2.2],[-.96,-2.28],[-.87,-2.28],[-.78,-2.28],[-.68,-2.28],[-.59,-2.28],[-.5,-2.28],[-.96,-2.36],[-.87,-2.36],[-.77,-2.36],[-.68,-2.36],[-.58,-2.36],[-.96,-2.44],[-.87,-2.44],[-.77,-2.44],[-.68,-2.44],[-.58,-2.44],[-.96,-2.52],[-.87,-2.52],[-.77,-2.52],[-.68,-2.52],[-.9,-2.6],[-.8,-2.6],[-.7,-2.6]];
const cluster8=[[.09,-.09],[.03,-.52],[.24,-.49],[.14,-.77],[.6,-.74],[.63,-.83],[.25,-.85],[.17,-.91],[.36,-.94],[1.19,-3.65],[1.34,-3.61],[.67,-3.09],[.88,-3.08],[.97,-3.11],[.89,-3.22],[.18,-2.57],[.29,-2.38],[.27,-2.26],[.15,-1.88],[.19,-1.79],[.06,-1.52],[1.2,-2.48],[1.26,-2.63],[1.22,-2.71],[1.29,-2.75],[1.07,-2.68],[.87,-2.8],[.92,-2.83],[1,-2.85],[1.06,-2.06],[1.05,-1.74],[.92,-1.44],[.82,-1.28],[1.09,-2.34],[1.02,-2.25],[.75,-1.27],[.1,-1.06],[.48,-.86],[.42,-.9],[.53,-.95],[.5,-1.04],[.44,-.98],
[.22,-1.08],[.32,-1.1],[.42,-1.09],[.22,-1.15],[.32,-1.17],[.42,-1.16],[.52,-1.17],[.62,-1.2],
[.3,-1.25],[.39,-1.24],[.49,-1.25],[.58,-1.25],[.67,-1.3],
[.24,-1.33],[.33,-1.33],[.42,-1.32],[.52,-1.33],[.62,-1.34],[.72,-1.35],
[.3,-1.41],[.39,-1.4],[.48,-1.41],[.58,-1.4],[.67,-1.41],[.78,-1.38],
[.3,-1.49],[.39,-1.48],[.48,-1.49],[.58,-1.48],[.67,-1.49],
[.26,-1.55],[.36,-1.57],[.45,-1.56],[.54,-1.57],[.64,-1.56],[.73,-1.56],[.84,-1.55],
[.3,-1.65],[.39,-1.64],[.48,-1.65],[.58,-1.64],[.67,-1.65],[.77,-1.64],[.88,-1.62],
[.32,-1.72],[.41,-1.72],[.5,-1.73],[.6,-1.72],[.69,-1.73],[.79,-1.72],[.9,-1.71],
[.3,-1.8],[.39,-1.8],[.48,-1.81],[.58,-1.8],[.67,-1.81],[.77,-1.8],[.87,-1.81],
[.27,-1.86],[.36,-1.88],[.45,-1.89],[.55,-1.88],[.64,-1.89],[.74,-1.88],[.84,-1.89],[.92,-1.86],
[.38,-1.96],[.47,-1.96],[.56,-1.97],[.66,-1.96],[.75,-1.97],[.85,-1.96],[.94,-1.95],
[.32,-2.04],[.42,-2.04],[.51,-2.05],[.6,-2.04],[.7,-2.05],[.79,-2.04],[.89,-2.05],[.97,-2.04],
[.37,-2.12],[.47,-2.12],[.56,-2.13],[.66,-2.12],[.75,-2.13],[.85,-2.12],[.94,-2.13],
[.41,-2.2],[.5,-2.2],[.6,-2.21],[.69,-2.2],[.78,-2.21],[.88,-2.2],[.97,-2.2],
[.46,-2.28],[.55,-2.28],[.64,-2.29],[.74,-2.28],[.83,-2.29],[.93,-2.3],
[.47,-2.36],[.56,-2.36],[.66,-2.37],[.75,-2.36],[.85,-2.37],[.97,-2.36],
[.52,-2.44],[.62,-2.44],[.71,-2.45],[.8,-2.44],[.9,-2.45],[1,-2.44],
[.56,-2.52],[.66,-2.52],[.75,-2.53],[.85,-2.52],[.95,-2.52],[1.03,-2.5],
[.49,-2.58],[.58,-2.6],[.68,-2.6],[.77,-2.61],[.87,-2.6],[.98,-2.6],[.68,-2.68],[.78,-2.69],[.88,-2.68],[.98,-2.67],[.6,-2.65],[.52,-2.65]];
const core8=[[.27,-1.21],[.37,-1.21],[.46,-1.21],[.55,-1.21],[.28,-1.29],[.37,-1.29],[.47,-1.29],[.57,-1.29],[.66,-1.37],[.28,-1.37],[.37,-1.37],[.47,-1.37],[.57,-1.37],[.34,-1.45],[.43,-1.45],[.53,-1.45],[.62,-1.45],[.72,-1.46],[.35,-1.53],[.44,-1.53],[.53,-1.53],[.62,-1.53],[.72,-1.53],[.34,-1.6],[.44,-1.6],[.53,-1.6],[.62,-1.6],[.72,-1.6],[.82,-1.6],[.36,-1.68],[.45,-1.68],[.55,-1.68],[.64,-1.68],[.74,-1.68],[.84,-1.68],[.35,-1.76],[.44,-1.76],[.54,-1.76],[.63,-1.76],[.73,-1.76],[.83,-1.76],[.34,-1.84],[.43,-1.84],[.53,-1.84],[.62,-1.84],[.72,-1.84],[.81,-1.84],[.42,-1.92],[.51,-1.92],[.6,-1.92],[.7,-1.92],[.8,-1.92],[.89,-1.92],[.37,-2],[.46,-2],[.55,-2],[.65,-2],[.74,-2],[.84,-2],[.93,-2],[.42,-2.08],[.51,-2.08],[.6,-2.08],[.7,-2.08],[.79,-2.08],[.89,-2.08],[.46,-2.16],[.55,-2.16],[.64,-2.16],[.74,-2.16],[.83,-2.16],[.92,-2.16],[.5,-2.24],[.6,-2.24],[.69,-2.24],[.78,-2.24],[.88,-2.24],[.51,-2.32],[.6,-2.32],[.7,-2.32],[.8,-2.32],[.9,-2.32],[.57,-2.4],[.66,-2.4],[.76,-2.4],[.85,-2.4],[.95,-2.4],[.6,-2.48],[.7,-2.48],[.8,-2.48],[.9,-2.48],[.62,-2.56],[.72,-2.56],[.82,-2.56],[.92,-2.56]];
const cluster9=[[.4,-.39],[.48,-.4],[.93,-.13],[.96,-.4],[.75,-.61],[1.36,-.56],[1.73,-.69],[1.93,-.77],[1.9,-.83],[2.08,-.93],[2.13,-1.02],[2.53,-1.12],[2.54,-1.51],[2.65,-1.6],[2.77,-1.65],[2.86,-2.01],[2.62,-2.09],[2.39,-2.13],[1.81,-2.09],[1.68,-1.87],[1.79,-1.87],[2.26,-1.96],[2.24,-2.02],[.94,-1.24],[1.07,-1.34],[1.32,-1.4],[1.5,-1.59],[.73,-1],[.78,-1.02],[2.52,-1.68],[2.6,-1.72],[2.49,-1.8],[2.58,-1.85],[2.64,-1.93],[2.68,-1.93],[.85,-.5],[.88,-.58],[.95,-.52],[1,-.58],[.78,-.67],[.96,-.62],[2.28,-1.88],[2.36,-1.77],[2.3,-1.75],[2.4,-1.74],[1.82,-1.8],[1.9,-1.78],[1.95,-1.85],[2.03,-1.88],[2.07,-1.92],
[1.1,-.68],[1.2,-.7],[1.05,-.76],[1.15,-.76],[1.24,-.76],[1.34,-.74],[1.43,-.78],
[.88,-.83],[.98,-.84],[1.08,-.83],[1.18,-.84],[1.27,-.83],[1.37,-.84],[1.46,-.83],[1.55,-.84],
[.8,-.92],[.9,-.92],[1,-.91],[1.1,-.92],[1.19,-.91],[1.29,-.92],[1.38,-.91],[1.48,-.92],[1.57,-.91],[1.68,-.93],
[.8,-.99],[.92,-1],[1.02,-.99],[1.12,-1],[1.21,-.99],[1.31,-1],[1.4,-.99],[1.5,-1],[1.59,-.99],[1.69,-1],[1.78,-1],
[.98,-1.07],[1.08,-1.08],[1.17,-1.07],[1.27,-1.08],[1.36,-1.07],[1.46,-1.08],[1.55,-1.07],[1.65,-1.08],[1.74,-1.07],[1.84,-1.06],
[1.03,-1.15],[1.13,-1.15],[1.22,-1.14],[1.32,-1.15],[1.41,-1.14],[1.51,-1.15],[1.6,-1.14],[1.7,-1.15],[1.79,-1.14],[1.88,-1.15],[1.98,-1.14],
[1.24,-1.22],[1.36,-1.22],[1.46,-1.22],[1.56,-1.21],[1.65,-1.22],[1.75,-1.21],[1.84,-1.22],[1.94,-1.21],[2.03,-1.22],[2.11,-1.2],
[1.33,-1.3],[1.43,-1.3],[1.53,-1.29],[1.62,-1.3],[1.72,-1.29],[1.81,-1.3],[1.91,-1.29],[2,-1.3],[2.1,-1.29],[2.2,-1.27],[2.32,-1.25],
[1.42,-1.37],[1.52,-1.37],[1.62,-1.36],[1.71,-1.37],[1.81,-1.36],[1.9,-1.37],[2,-1.36],[2.09,-1.37],[2.19,-1.36],[2.29,-1.37],[2.38,-1.34],
[1.46,-1.44],[1.56,-1.45],[1.65,-1.44],[1.75,-1.45],[1.84,-1.44],[1.94,-1.45],[2.03,-1.44],[2.13,-1.45],[2.22,-1.44],[2.32,-1.45],
[1.63,-1.52],[1.73,-1.52],[1.83,-1.51],[1.92,-1.52],[2.02,-1.51],[2.11,-1.52],[2.21,-1.51],[2.32,-1.52],
[1.62,-1.58],[1.72,-1.6],[1.82,-1.59],[1.91,-1.6],[2,-1.59],[2.1,-1.6],[2.22,-1.6],[2.33,-1.6],
[1.75,-1.68],[1.85,-1.67],[1.95,-1.68],[2.04,-1.67],[2.25,-1.68],[2.35,-1.68],[2.44,-1.67],
[1.98,-1.75],[2.07,-1.76],[2.33,-1.7],[2,-1.82]];
const core9=[[1.1,-.8],[1.2,-.8],[1.3,-.8],[1.4,-.8],[.95,-.88],[1.05,-.88],[1.14,-.88],[1.24,-.88],[1.33,-.88],[1.43,-.88],[1.52,-.88],[.86,-.96],[.96,-.96],[1.06,-.96],[1.15,-.96],[1.25,-.96],[1.35,-.96],[1.44,-.96],[1.54,-.96],[1.63,-.96],[1.03,-1.03],[1.13,-1.03],[1.22,-1.03],[1.32,-1.03],[1.41,-1.03],[1.51,-1.03],[1.6,-1.03],[1.7,-1.03],[1.08,-1.11],[1.17,-1.11],[1.27,-1.11],[1.36,-1.11],[1.46,-1.11],[1.55,-1.11],[1.65,-1.11],[1.75,-1.11],[1.84,-1.11],[1.3,-1.18],[1.4,-1.18],[1.5,-1.18],[1.6,-1.18],[1.7,-1.18],[1.79,-1.18],[1.88,-1.18],[1.98,-1.18],[1.38,-1.26],[1.48,-1.26],[1.57,-1.26],[1.67,-1.26],[1.77,-1.26],[1.86,-1.26],[1.96,-1.26],[2.05,-1.26],[2.15,-1.26],[1.47,-1.33],[1.57,-1.33],[1.67,-1.33],[1.76,-1.33],[1.86,-1.33],[1.95,-1.33],[2.05,-1.33],[2.14,-1.33],[2.24,-1.33],[1.6,-1.41],[1.7,-1.41],[1.79,-1.41],[1.89,-1.41],[1.98,-1.41],[2.08,-1.41],[2.17,-1.41],[2.27,-1.41],[1.68,-1.48],[1.78,-1.48],[1.87,-1.48],[1.97,-1.48],[2.07,-1.48],[2.16,-1.48],[2.26,-1.48],[1.77,-1.55],[1.87,-1.55],[1.96,-1.55],[2.06,-1.55],[2.16,-1.55],[2.27,-1.55],[1.8,-1.63],[1.9,-1.63],[2,-1.63],[2.1,-1.63],[2.28,-1.63]];
const clusters=[cluster0.concat(core0),cluster1.concat(core1),cluster2.concat(core2),cluster3.concat(core3),cluster4.concat(core4),cluster5.concat(core5),cluster6.concat(core6),cluster7.concat(core7),cluster8.concat(core8),cluster9.concat(core9)];

const svg=d3.select("#c");
const x=d3.scaleLinear().domain([-5,5]).range([135,805]);
const y=d3.scaleLinear().domain([-5,4]).range([756,86]);

const plot=svg.append("g").attr("transform","translate(.5,.5)");
clusters.forEach((pts,i)=>{
  plot.append("g").selectAll("circle").data(pts).join("circle")
    .attr("cx",d=>x(d[0])).attr("cy",d=>y(d[1])).attr("r",3.5).attr("fill",colors[i]);
});

const fmt=d=>String(d).replace("-","\u2212");
function style(g){
  g.selectAll("path.domain").attr("stroke","#000").attr("stroke-width",1);
  g.selectAll(".tick line").attr("stroke","#000").attr("stroke-width",.6);
  g.selectAll(".tick text").attr("font-family",'"DejaVu Sans",sans-serif').attr("font-size",10).attr("fill","#000");
}
svg.append("g").attr("transform","translate(0,756)").call(d3.axisBottom(x).tickValues(xTicks).tickFormat(fmt).tickSize(-4).tickSizeOuter(0).tickPadding(4.5)).call(style);
svg.append("g").attr("transform","translate(0,86)").call(d3.axisTop(x).tickValues(xTicks).tickFormat("").tickSize(-4).tickSizeOuter(0)).call(style);
svg.append("g").attr("transform","translate(135,0)").call(d3.axisLeft(y).tickValues(yTicks).tickFormat(fmt).tickSize(-4).tickSizeOuter(0).tickPadding(3.5)).call(style);
svg.append("g").attr("transform","translate(805,0)").call(d3.axisRight(y).tickValues(yTicks).tickFormat("").tickSize(-4).tickSizeOuter(0)).call(style);

svg.append("text").attr("x",470).attr("y",783).attr("text-anchor","middle").attr("font-size",10).text("z1");
svg.append("text").attr("transform","translate(110,421) rotate(-90)").attr("text-anchor","middle").attr("font-size",10).text("z2");

const legendY=d3.scalePoint().domain(labels).range([335,506]);
const lg=svg.append("g");
lg.append("rect").attr("x",878.5).attr("y",324.5).attr("width",48).attr("height",193.5).attr("fill","#fff").attr("stroke","#000").attr("stroke-width",1);
labels.forEach((l,i)=>{
  lg.append("rect").attr("x",882.5).attr("y",legendY(l)-3.9).attr("width",24).attr("height",8).attr("fill",colors[i]).attr("stroke","#000").attr("stroke-width",1);
  lg.append("text").attr("x",916).attr("y",legendY(l)+4.5).attr("font-size",12).text(l);
});
</script></body></html>
